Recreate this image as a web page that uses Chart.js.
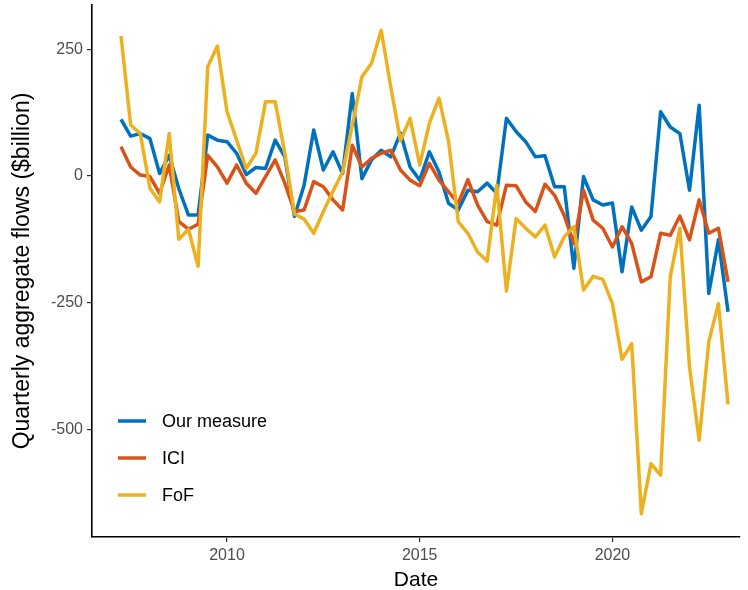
<!DOCTYPE html>
<html>
<head>
<meta charset="utf-8">
<script src="https://cdn.jsdelivr.net/npm/chart.js@4.4.1/dist/chart.umd.min.js"></script>
<style>
  body { margin: 0; background: #fff; }
  #flowsChart { display: block; }
</style>
</head>
<body>
<canvas id="flowsChart" width="748" height="590"></canvas>
<script>
// quarterly series, first quarter 2007 Q2, last 2023 Q1
const firstQuarter = 2007.25;

const ourMeasure = [112, 79, 84, 74, 5, 41, -25, -77, -77, 81, 71, 68, 45, 3, 17, 15,
    71, 38, -80, -18, 91, 12, 48, 5, 163, -5, 32, 51, 38, 85, 18, -8,
    48, 8, -54, -67, -28, -31, -14, -34, 114, 88, 68, 38, 40, -21, -21, -182,
    -1, -47, -57, -53, -189, -61, -107, -80, 127, 97, 84, -28, 140, -232, -126, -268];

const ici = [58, 18, 2, -1, -34, 22, -90, -105, -95, 41, 18, -14, 22, -14, -34, -1,
    32, -14, -70, -67, -11, -21, -47, -67, 61, 18, 35, 45, 51, 12, -8, -19,
    25, -8, -31, -54, -7, -57, -90, -97, -18, -19, -51, -70, -16, -38, -78, -133,
    -28, -87, -103, -140, -100, -133, -209, -199, -113, -117, -79, -126, -47, -113, -103, -209];

const fof = [277, 101, 84, -24, -51, 84, -125, -105, -178, 216, 257, 127, 71, 15, 45, 147,
    147, 45, -75, -85, -113, -70, -30, 8, 100, 196, 223, 288, 176, 70, 114, 22,
    104, 154, 68, -90, -113, -150, -168, -18, -227, -84, -103, -120, -97, -160, -120, -100,
    -225, -198, -204, -252, -362, -331, -667, -568, -591, -199, -103, -377, -522, -327, -252, -451];

const xTicks = [2010, 2015, 2020];
const yTicks = [250, 0, -250, -500];

const seriesNames = ['Our measure', 'ICI', 'FoF'];
const seriesColors = ['#0072BD', '#D95319', '#EDB120'];

function toPoints(values) {
    return values.map((v, i) => ({ x: firstQuarter + i / 4, y: v }));
}

const FONT = '"Liberation Sans", Arial, Helvetica, sans-serif';

// legend drawn inside the panel, bottom left
const insideLegend = {
    id: 'insideLegend',
    afterDraw(chart) {
        const ctx = chart.ctx;
        const area = chart.chartArea;
        const x0 = area.left + 26;
        const y0 = area.bottom - 116;
        ctx.save();
        ctx.font = '18px ' + FONT;
        ctx.textBaseline = 'middle';
        chart.data.datasets.forEach((ds, i) => {
            const y = y0 + i * 37;
            ctx.strokeStyle = ds.borderColor;
            ctx.lineWidth = 3.5;
            ctx.beginPath();
            ctx.moveTo(x0, y);
            ctx.lineTo(x0 + 28, y);
            ctx.stroke();
            ctx.fillStyle = '#000';
            ctx.fillText(ds.label, x0 + 44, y + 1);
        });
        ctx.restore();
    }
};

const flowsChart = new Chart(document.getElementById('flowsChart'), {
    type: 'line',
    data: {
        datasets: [ourMeasure, ici, fof].map((vals, i) => ({
            label: seriesNames[i],
            data: toPoints(vals),
            borderColor: seriesColors[i],
            backgroundColor: seriesColors[i],
            borderWidth: 3.5,
            pointRadius: 0,
            tension: 0,
            borderJoinStyle: 'round',
            order: 2 - i,
        }))
    },
    options: {
        responsive: false,
        animation: false,
        events: [],
        layout: { padding: { top: 5, right: 8, left: 0, bottom: 0 } },
        plugins: {
            legend: { display: false },
            tooltip: { enabled: false },
        },
        scales: {
            x: {
                type: 'linear',
                min: 2006.497,
                max: 2023.31,
                afterFit: (scale) => {
                    scale.height = 53;
                    scale.paddingLeft = 0;
                    scale.paddingRight = 0;
                },
                afterBuildTicks: (scale) => { scale.ticks = xTicks.map(v => ({ value: v })); },
                grid: { drawOnChartArea: false, tickLength: 5, color: '#333', lineWidth: 1.2 },
                border: { display: true, color: '#000', width: 1.6 },
                ticks: {
                    color: '#4d4d4d',
                    font: { size: 16, family: FONT },
                    padding: 4,
                    maxRotation: 0,
                    callback: (v) => String(v),
                },
                title: {
                    display: true,
                    text: 'Date',
                    color: '#000',
                    font: { size: 21, family: FONT, lineHeight: 1 },
                    padding: { top: 0, bottom: -1 },
                },
            },
            y: {
                min: -713,
                max: 338,
                afterFit: (scale) => {
                    scale.width = 92;
                    scale.paddingTop = 0;
                    scale.paddingBottom = 0;
                },
                afterBuildTicks: (scale) => { scale.ticks = yTicks.map(v => ({ value: v })); },
                grid: { drawOnChartArea: false, tickLength: 5, color: '#333', lineWidth: 1.2 },
                border: { display: true, color: '#000', width: 1.6 },
                ticks: {
                    color: '#4d4d4d',
                    font: { size: 16, family: FONT },
                    padding: 4,
                },
                title: {
                    display: true,
                    text: 'Quarterly aggregate flows ($billion)',
                    color: '#000',
                    font: { size: 23, family: FONT, lineHeight: 1.2 },
                    padding: { top: 9, bottom: 0 },
                },
            },
        },
    },
    plugins: [insideLegend],
});
</script>
</body>
</html>
